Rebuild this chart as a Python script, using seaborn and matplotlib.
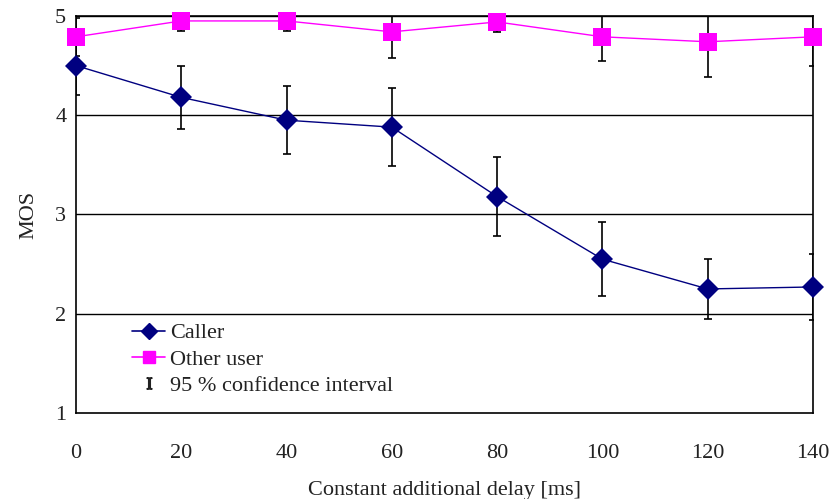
import pandas as pd
import numpy as np
import matplotlib
matplotlib.use('Agg')
import matplotlib.pyplot as plt
import seaborn as sns
from matplotlib.lines import Line2D

# dados
delay = [0, 20, 40, 60, 80, 100, 120, 140]
mos_caller = [4.50, 4.18, 3.95, 3.88, 3.18, 2.55, 2.25, 2.27]
ci_caller = [0.30, 0.32, 0.345, 0.39, 0.40, 0.37, 0.30, 0.33]
mos_other = [4.79, 4.95, 4.95, 4.84, 4.94, 4.79, 4.74, 4.79]
ci_other = [0.19, 0.10, 0.10, 0.26, 0.10, 0.24, 0.35, 0.29]

df = pd.DataFrame({
    'delay': delay * 2,
    'MOS': mos_caller + mos_other,
    'grupo': ['Caller'] * len(delay) + ['Other user'] * len(delay),
})

sns.set_style('white')
plt.rcParams['font.family'] = ['Liberation Serif', 'DejaVu Serif']
plt.rcParams['mathtext.fontset'] = 'stix'

fig = plt.figure(figsize=(8.37, 4.99), dpi=100)
ax = fig.add_axes([0.0908, 0.1723, 0.8805, 0.7957])

cores = {'Caller': '#000080', 'Other user': '#FF00FF'}
marcadores = {'Caller': 'D', 'Other user': 's'}

# intervalos de confianca
ax.errorbar(delay, mos_caller, yerr=ci_caller, fmt='none', ecolor='black',
            elinewidth=1.2, capsize=3, capthick=1.2, zorder=2)
ax.errorbar(delay, mos_other, yerr=ci_other, fmt='none', ecolor='black',
            elinewidth=1.2, capsize=3, capthick=1.2, zorder=2)

sns.lineplot(data=df, x='delay', y='MOS', hue='grupo', style='grupo',
             palette=cores, markers=marcadores, dashes=False, ax=ax,
             linewidth=1, markersize=11, markeredgewidth=0, legend=False,
             zorder=3, clip_on=False)
# quadrados maiores
for l in ax.lines:
    if l.get_marker() == 's':
        l.set_markersize(13)

ax.set_xlim(0, 140)
ax.set_ylim(1, 5)
ax.set_xticks(delay)
ax.set_yticks([1, 2, 3, 4, 5])
for y in [2, 3, 4, 5]:
    ax.axhline(y, color='black', linewidth=1, zorder=1)

for s in ax.spines.values():
    s.set_color('black')
    s.set_linewidth(1.2)

fs = 16
ax.tick_params(axis='x', direction='in', length=6, width=1.2, pad=22,
               labelsize=fs, colors='#222222')
ax.tick_params(axis='y', length=0, pad=7, labelsize=fs, colors='#222222')
ax.set_xlabel('Constant additional delay [ms]', fontsize=fs, labelpad=13, color='#222222')
ax.set_ylabel('MOS', fontsize=fs, labelpad=12, color='#222222')

handles = [
    Line2D([], [], color='#000080', marker='D', markersize=8, linewidth=1.2),
    Line2D([], [], color='#FF00FF', marker='s', markersize=9, linewidth=1.2),
    Line2D([], [], color='#222222', marker='$\\mathrm{I}$', markersize=8, linestyle='none'),
]
labels = ['Caller', 'Other user', '95 % confidence interval']
leg = ax.legend(handles, labels, loc='upper left', bbox_to_anchor=(0.076, 0.227),
                frameon=False, fontsize=fs, handlelength=1.5, handletextpad=0.2,
                labelspacing=0.25, borderpad=0, borderaxespad=0)
for t in leg.get_texts():
    t.set_color('#222222')

plt.savefig('out.png', dpi=100)
